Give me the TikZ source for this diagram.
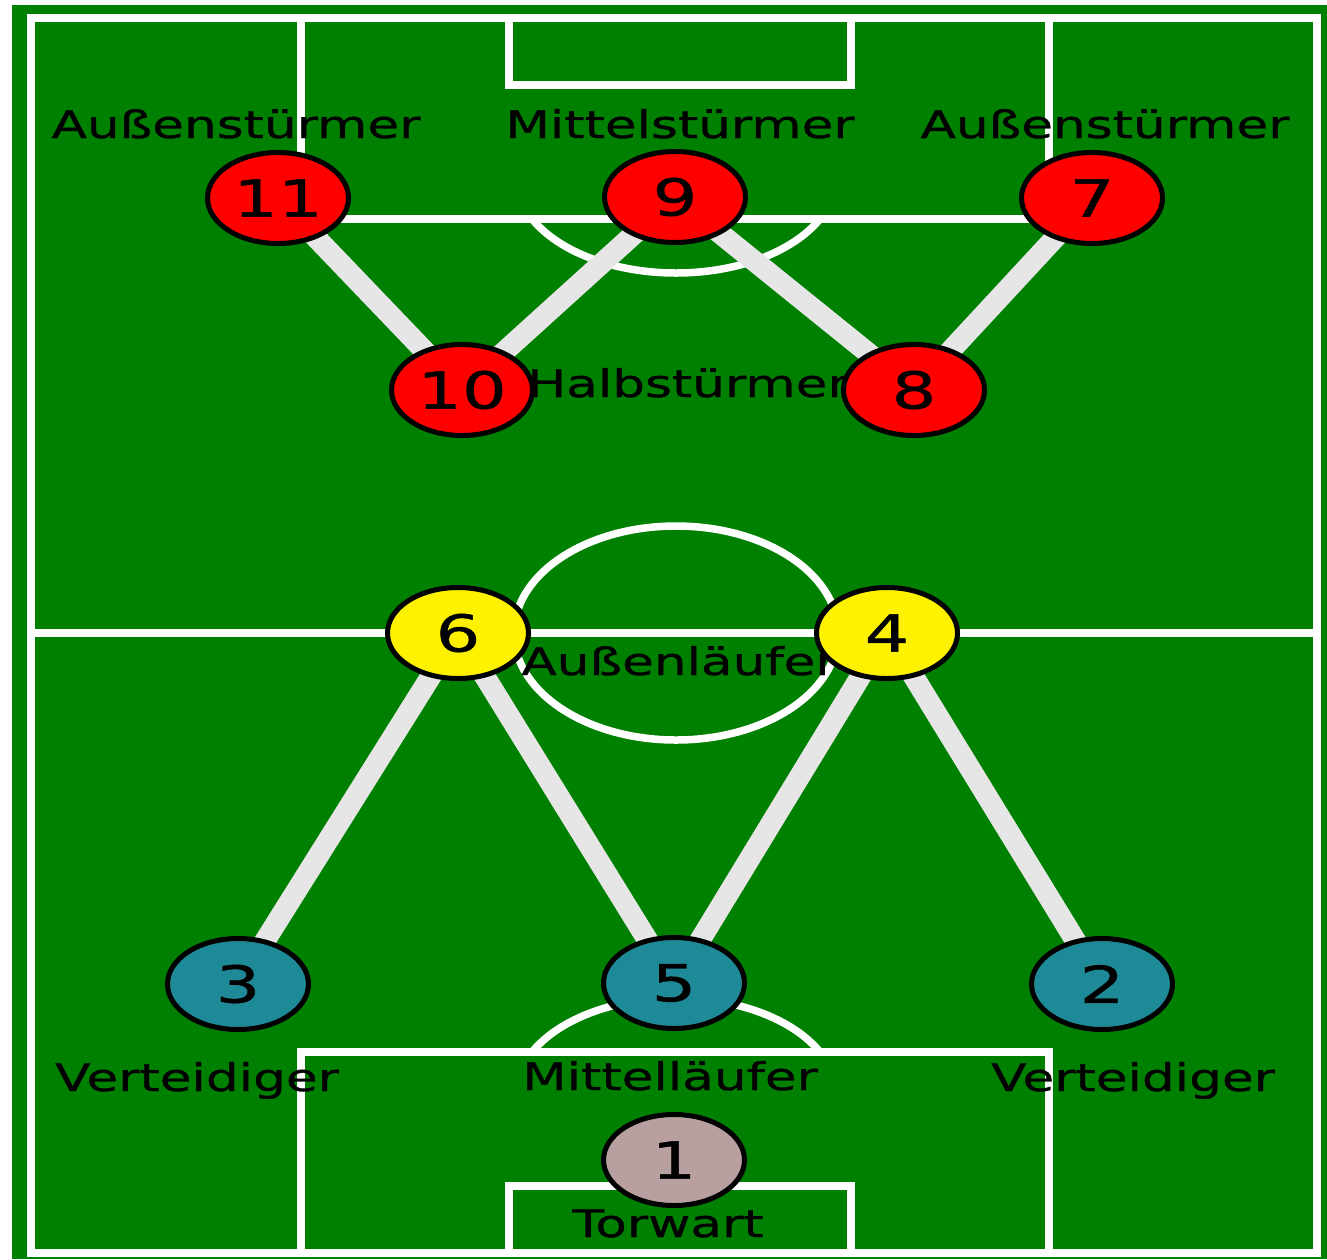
\documentclass[tikz,border=0pt]{standalone}
\usepackage{fontspec}
\setmainfont{DejaVu Sans}
\newfontfamily\stretchfont[FakeStretch=1.36,FakeBold=0.8]{DejaVu Sans}
\newfontfamily\numfont[FakeStretch=1.38,FakeBold=0.8]{DejaVu Sans}
\usetikzlibrary{shapes.geometric}
\pgfdeclarelayer{field}
\pgfdeclarelayer{links}
\pgfsetlayers{field,links,main}
\definecolor{pitch}{RGB}{0,128,0}
\definecolor{linkgrey}{RGB}{230,230,230}
\definecolor{defteal}{RGB}{30,138,152}
\definecolor{keeper}{RGB}{185,160,160}
\begin{document}
\begin{tikzpicture}[x=1pt,y=-1pt,
  player/.style={ellipse, draw=black, line width=5pt, minimum width=141pt, minimum height=91pt, inner sep=0pt, font=\numfont\fontsize{51}{54}\selectfont},
  redp/.style={player, fill=red},
  yellowp/.style={player, fill=yellow},
  tealp/.style={player, fill=defteal},
  greyp/.style={player, fill=keeper},
  role/.style={anchor=base, inner sep=0pt, text=black, font=\stretchfont\fontsize{38}{42}\selectfont},
  link/.style={draw=linkgrey, line width=21pt},
  markline/.style={draw=white, line width=7.5pt}
]
\useasboundingbox (0,0) rectangle (1327,1259);
\begin{pgfonlayer}{field}
  \fill[white] (0,0) rectangle (1327,1259);
  \fill[pitch] (12,5) rectangle (1327,1259);
  \draw[markline] (31,18) rectangle (1317,1253);
  \draw[markline] (31,633) -- (1317,633);
  \draw[markline] (676,633) ellipse [x radius=162pt, y radius=107pt];
  \draw[markline] (301,18) rectangle (1049,219);
  \draw[markline] (509,18) rectangle (851,85);
  \draw[markline] (301,1253) rectangle (1049,1052);
  \draw[markline] (509,1253) rectangle (851,1186);
  \begin{scope}
    \clip (0,219) rectangle (1327,420);
    \draw[markline] (676,177) ellipse [x radius=160pt, y radius=96pt];
  \end{scope}
  \begin{scope}
    \clip (0,850) rectangle (1327,1052);
    \draw[markline] (676,1094) ellipse [x radius=160pt, y radius=96pt];
  \end{scope}
\end{pgfonlayer}

\node[redp] (p11) at (278,198) {11};
\node[redp] (p9) at (675,197) {9};
\node[redp] (p7) at (1092,198) {7};
\node[redp] (p10) at (462,390) {10};
\node[yellowp] (p6) at (458,633) {6};
\node[tealp] (p3) at (238,984) {3};
\node[tealp] (p5) at (674,983) {5};
\node[tealp] (p2) at (1102,984) {2};
\node[greyp] (p1) at (674,1160) {1};

\node[role] (l11) at (236,138) {Außenstürmer};
\node[role] (l9) at (680,138) {Mittelstürmer};
\node[role] (l7) at (1105,138) {Außenstürmer};
\node[role] (lhalf) at (688,397) {Halbstürmer};
\node[role] (lauss) at (679,675) {Außenläufer};
\node[role] (l3) at (197,1091) {Verteidiger};
\node[role] (l5) at (670,1090) {Mittelläufer};
\node[role] (l2) at (1133,1091) {Verteidiger};
\node[role] (l1) at (668,1237) {Torwart};

\node[redp] (p8) at (914,390) {8};
\node[yellowp] (p4) at (887,633) {4};

\begin{pgfonlayer}{links}
  \draw[link] (p11.center) -- (p10.center);
  \draw[link] (p10.center) -- (p9.center);
  \draw[link] (p9.center) -- (p8.center);
  \draw[link] (p8.center) -- (p7.center);
  \draw[link] (p6.center) -- (p3.center);
  \draw[link] (p6.center) -- (p5.center);
  \draw[link] (p4.center) -- (p5.center);
  \draw[link] (p4.center) -- (p2.center);
\end{pgfonlayer}
\end{tikzpicture}
\end{document}
